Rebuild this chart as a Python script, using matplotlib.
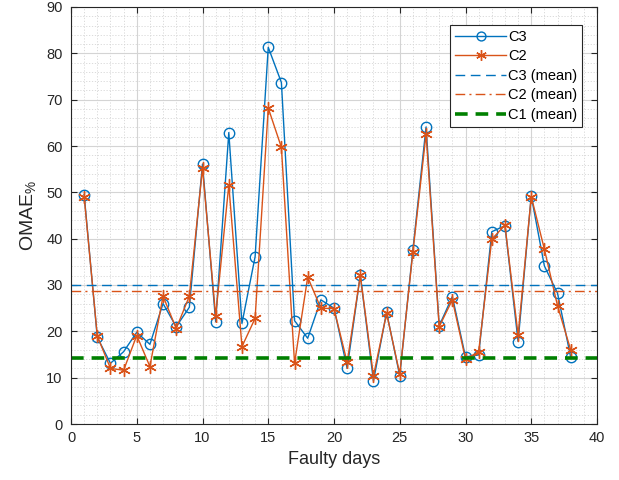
import matplotlib
matplotlib.use("Agg")
import matplotlib.pyplot as plt
from matplotlib.ticker import MultipleLocator

plt.rcParams['font.family'] = ['Liberation Sans', 'DejaVu Sans']
plt.rcParams['mathtext.fontset'] = 'custom'
plt.rcParams['mathtext.rm'] = 'Liberation Sans'
plt.rcParams['mathtext.it'] = 'Liberation Sans'

days = list(range(1, 39))
c3 = [49.5, 18.7, 13.1, 15.6, 19.8, 17.2, 26.0, 21.0, 25.2, 56.1,
      22.1, 62.9, 21.7, 36.1, 81.3, 73.7, 22.3, 18.5, 26.8, 25.0,
      12.0, 32.1, 9.3, 24.1, 10.4, 37.6, 64.1, 21.2, 27.5, 14.5,
      14.9, 41.5, 42.8, 17.8, 49.2, 34.1, 28.2, 14.4]
c2 = [49.1, 19.0, 12.0, 11.6, 19.1, 12.4, 27.6, 20.6, 27.6, 55.2,
      23.3, 51.6, 16.7, 22.8, 68.2, 59.7, 13.1, 31.7, 25.0, 24.9,
      13.3, 32.1, 10.4, 23.9, 10.8, 37.1, 62.6, 21.0, 26.8, 14.0,
      15.6, 39.9, 42.9, 19.2, 49.1, 37.7, 25.5, 16.0]
c3_mean = 30.1
c2_mean = 28.7
c1_mean = 14.2

blue = '#0072BD'
orange = '#D95319'
green = '#008000'

fig = plt.figure(figsize=(6.19, 4.80), dpi=100)
ax = fig.add_axes([71/619, 1-424/480, (597-71)/619, (424-7)/480])

ax.plot(days, c3, '-o', color=blue, lw=1.0, ms=7.5, mfc='none', mew=1.0, label='C3')
ax.plot(days, c2, '-', marker=(6, 2, 0), color=orange, lw=1.0, ms=9, mew=1.0, label='C2')
ax.plot([0, 40], [c3_mean, c3_mean], '--', color=blue, lw=1.0, dashes=(7, 4), label='C3 (mean)')
ax.plot([0, 40], [c2_mean, c2_mean], '-.', color=orange, lw=1.0, dashes=(7, 3, 1.5, 3), label='C2 (mean)')
ax.plot([0, 40], [c1_mean, c1_mean], '--', color=green, lw=2.6, dashes=(3.5, 2.2), label='C1 (mean)')

ax.set_xlim(0, 40)
ax.set_ylim(0, 90)
ax.xaxis.set_major_locator(MultipleLocator(5))
ax.xaxis.set_minor_locator(MultipleLocator(1))
ax.yaxis.set_major_locator(MultipleLocator(10))
ax.yaxis.set_minor_locator(MultipleLocator(2))
ax.grid(which='major', color='#d4d4d4', lw=0.8, ls='-')
ax.grid(which='minor', color='#d6d6d6', lw=0.6, ls=(0, (1.5, 2.0)))
ax.set_axisbelow(True)
ax.tick_params(which='both', direction='in', top=True, right=True, labelsize=10.5, colors='#262626')
ax.tick_params(which='major', length=4)
ax.tick_params(axis='y', which='major', pad=6)
ax.tick_params(axis='x', which='major', pad=5)
ax.tick_params(which='minor', length=0)
for s in ax.spines.values():
    s.set_color('#262626')
    s.set_linewidth(0.8)

ax.set_xlabel('Faulty days', fontsize=13, color='#262626', labelpad=4)
ax.set_ylabel('OMAE$_{\\%}$', fontsize=14, color='#262626', labelpad=6)

leg = ax.legend(loc='upper right', bbox_to_anchor=(0.9715, 0.958), fontsize=10.5, fancybox=False,
                edgecolor='#262626', framealpha=1, handlelength=3.5, borderpad=0.35,
                labelspacing=0.38, handletextpad=0.1, borderaxespad=0, markerscale=0.85)
leg.get_frame().set_linewidth(0.8)

fig.savefig('out.png', dpi=100)
